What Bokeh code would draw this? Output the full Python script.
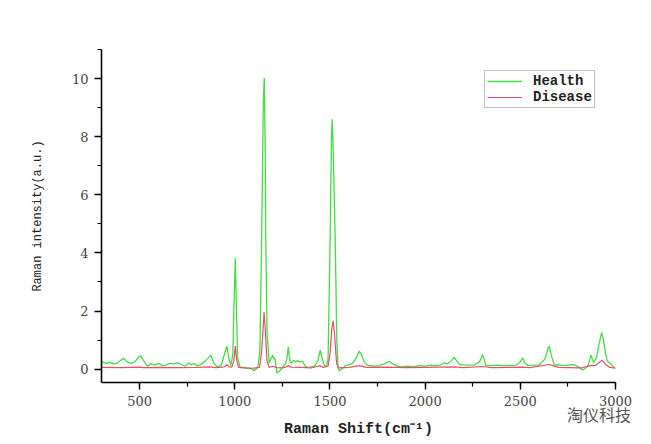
from bokeh.plotting import figure
from bokeh.models import Range1d, SingleIntervalTicker, Div
from bokeh.layouts import column
from bokeh.embed import file_html
from bokeh.resources import INLINE

# ---- data ----
health_x = [300, 315, 330, 345, 360, 380, 400, 417, 435, 455, 475, 495, 507, 520, 541, 560, 580, 600,
            620, 640, 660, 680, 700, 720, 740, 760, 770, 785, 800, 820, 840, 860, 874, 890, 909, 930,
            945, 958, 968, 979, 990, 997, 1003, 1008, 1015, 1028, 1050, 1070, 1085, 1100, 1112, 1122,
            1132, 1141, 1150, 1155, 1160, 1163, 1170, 1181, 1190, 1199, 1205, 1211, 1221, 1232, 1242,
            1255, 1268, 1276, 1281, 1287, 1295, 1310, 1320, 1330, 1340, 1356, 1370, 1382, 1400, 1417,
            1435, 1449, 1458, 1470, 1480, 1490, 1500, 1508, 1512, 1517, 1528, 1536, 1543, 1549, 1560,
            1584, 1600, 1619, 1635, 1654, 1665, 1680, 1698, 1732, 1760, 1790, 1811, 1830, 1855, 1880,
            1910, 1940, 1970, 2000, 2030, 2060, 2083, 2100, 2115, 2140, 2153, 2165, 2179, 2200, 2230,
            2260, 2285, 2302, 2312, 2319, 2350, 2380, 2420, 2450, 2480, 2500, 2512, 2525, 2538, 2570,
            2600, 2630, 2645, 2652, 2662, 2678, 2700, 2730, 2760, 2783, 2805, 2827, 2845, 2854, 2864,
            2871, 2878, 2885, 2900, 2915, 2927, 2937, 2948, 2959, 2975, 2990, 3000]
health_y = [0.25, 0.22, 0.20, 0.24, 0.18, 0.20, 0.30, 0.37, 0.25, 0.20, 0.25, 0.42, 0.46, 0.30, 0.10, 0.18, 0.14, 0.20,
            0.12, 0.15, 0.20, 0.18, 0.22, 0.16, 0.10, 0.22, 0.15, 0.20, 0.12, 0.15, 0.25, 0.38, 0.48, 0.20, 0.07, 0.15,
            0.50, 0.79, 0.40, 0.12, 0.50, 2.50, 3.82, 2.20, 0.40, 0.07, 0.05, 0.03, 0.02, -0.05, 0.00, 0.10,
            0.60, 4.40, 9.20, 10.02, 7.50, 4.40, 1.20, 0.20, 0.35, 0.48, 0.35, 0.37, -0.13, -0.08, -0.02,
            0.10, 0.20, 0.45, 0.77, 0.40, 0.20, 0.30, 0.25, 0.30, 0.25, 0.27, 0.10, 0.06, 0.08, 0.10,
            0.25, 0.65, 0.40, 0.13, 0.10, 0.30, 4.00, 8.00, 8.60, 7.50, 4.40, 1.00, 0.05, -0.06, 0.00,
            0.13, 0.15, 0.20, 0.35, 0.62, 0.50, 0.25, 0.13, 0.10, 0.12, 0.20, 0.27, 0.18, 0.10, 0.08,
            0.10, 0.08, 0.12, 0.10, 0.14, 0.12, 0.15, 0.22, 0.18, 0.30, 0.40, 0.30, 0.16, 0.15, 0.14,
            0.15, 0.25, 0.49, 0.30, 0.12, 0.13, 0.14, 0.12, 0.13, 0.14, 0.25, 0.39, 0.20, 0.13, 0.14,
            0.15, 0.35, 0.70, 0.79, 0.50, 0.14, 0.15, 0.12, 0.15, 0.15, 0.08, -0.03, 0.05, 0.10, 0.30,
            0.48, 0.35, 0.22, 0.40, 0.90, 1.26, 1.00, 0.50, 0.26, 0.18, 0.08, 0.03]

disease_x = [300, 400, 500, 520, 600, 700, 800, 870, 900, 945, 958, 970, 985, 995, 1003, 1010, 1020,
             1050, 1100, 1130, 1141, 1150, 1154, 1160, 1169, 1180, 1200, 1220, 1250, 1270, 1281, 1295,
             1350, 1400, 1449, 1465, 1490, 1500, 1510, 1517, 1524, 1535, 1545, 1600, 1654, 1690, 1800,
             1900, 2000, 2153, 2200, 2302, 2350, 2512, 2550, 2652, 2700, 2820, 2871, 2890, 2910, 2930,
             2950, 2970, 3000]
disease_y = [0.06, 0.05, 0.07, 0.05, 0.06, 0.05, 0.06, 0.08, 0.05, 0.08, 0.15, 0.08, 0.07, 0.30, 0.79, 0.30, 0.06,
             0.04, 0.03, 0.06, 0.60, 1.50, 1.97, 1.40, 0.30, 0.06, 0.10, 0.05, 0.04, 0.08, 0.12, 0.07,
             0.06, 0.04, 0.12, 0.06, 0.10, 0.50, 1.40, 1.66, 1.20, 0.20, 0.04, 0.06, 0.12, 0.06, 0.07,
             0.05, 0.06, 0.08, 0.05, 0.09, 0.05, 0.07, 0.05, 0.16, 0.06, 0.04, 0.13, 0.12, 0.20, 0.31,
             0.15, 0.06, 0.03]

series_names = ["Health", "Disease"]
x_label = "Raman Shift(cm\u207b\u00b9)"
y_label = "Raman intensity(a.u.)"
watermark = "淘仪科技"

# ---- figure ----
p = figure(width=651, height=444, output_backend="svg", toolbar_location=None,
           x_range=Range1d(300, 3000), y_range=Range1d(-0.46, 11.0),
           min_border_left=101, min_border_right=36, min_border_top=49, min_border_bottom=62)
p.outline_line_color = None
p.xgrid.visible = False
p.ygrid.visible = False
p.background_fill_color = "white"
p.border_fill_color = "white"

p.line(health_x, health_y, line_color="#44dd44", line_width=1.3, legend_label=series_names[0])
p.line(disease_x, disease_y, line_color="#e8506a", line_width=1.2, legend_label=series_names[1])

p.xaxis.ticker = SingleIntervalTicker(interval=500, num_minor_ticks=2)
p.yaxis.ticker = SingleIntervalTicker(interval=2, num_minor_ticks=2)

for ax in (p.xaxis[0], p.yaxis[0]):
    ax.axis_line_color = "black"
    ax.axis_line_width = 1.6
    ax.major_tick_line_color = "black"
    ax.major_tick_line_width = 1.4
    ax.minor_tick_line_color = "black"
    ax.minor_tick_line_width = 1.2
    ax.major_tick_out = 7
    ax.major_tick_in = 0
    ax.minor_tick_out = 4
    ax.minor_tick_in = 0
    ax.major_label_text_font = "DejaVu Serif"
    ax.major_label_text_font_size = "13px"
    ax.major_label_text_color = "#444444"
    ax.major_label_standoff = 6
    ax.axis_label_text_font = "Liberation Mono"
    ax.axis_label_text_color = "#222222"

p.xaxis.axis_label = x_label
p.xaxis.axis_label_text_font_size = "15px"
p.xaxis.axis_label_text_font_style = "bold"
p.xaxis.axis_label_standoff = 12
p.yaxis.axis_label = y_label
p.yaxis.axis_label_text_font_size = "12px"
p.yaxis.axis_label_text_font_style = "normal"
p.yaxis.axis_label_standoff = 24

lg = p.legend[0]
lg.location = (383, 274)
lg.border_line_color = "#888888"
lg.border_line_width = 1
lg.background_fill_alpha = 1
lg.label_text_font = "Liberation Mono"
lg.label_text_font_size = "14px"
lg.label_text_font_style = "bold"
lg.label_text_color = "#222222"
lg.glyph_width = 35
lg.glyph_height = 14
lg.label_height = 14
lg.label_standoff = 11
lg.spacing = 0
lg.padding = 2
lg.margin = 0

wm = Div(text=watermark, styles={"position": "absolute", "left": "562px", "top": "398px",
                                 "font-family": "Noto Sans CJK SC", "font-size": "16px",
                                 "color": "#555555", "z-index": "10"})

open("out.html", "w").write(file_html(column(p, wm), INLINE))
